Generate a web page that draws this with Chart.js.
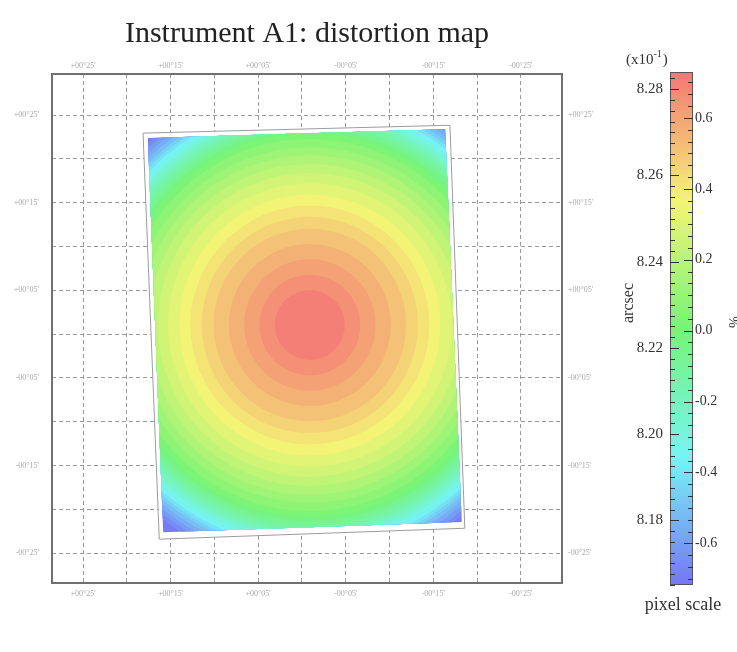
<!DOCTYPE html>
<html><head><meta charset="utf-8">
<script src="https://cdn.jsdelivr.net/npm/chart.js@4.4.1/dist/chart.umd.min.js"></script>
<style>
html,body{margin:0;padding:0;background:#fff;}
#wrap{position:relative;width:737px;height:652px;overflow:hidden;}
#main{position:absolute;left:0;top:0;}
#cbar{position:absolute;left:600px;top:0;}
</style></head><body>
<div id="wrap"><canvas id="main" width="600" height="652"></canvas><canvas id="cbar" width="137" height="652"></canvas></div>
<script>
// ---- data ----
const titleText = "Instrument A1: distortion map";
const gridTicks = [0,1,2,3,4,5,6,7,8,9,10];
const xTickLabels = ["+00°25'", "+00°15'", "+00°05'", "-00°05'", "-00°15'", "-00°25'"];
const yTickLabels = ["-00°25'", "-00°15'", "-00°05'", "+00°05'", "+00°15'", "+00°25'"];
// outline of the detector footprint (grid units)
const borderX = [1.37, 8.38, 8.72, 1.74];
const borderY = [9.59, 9.77, 0.57, 0.32];
// coloured image area
const imageX = [1.48, 8.27, 8.65, 1.83];
const imageY = [9.48, 9.68, 0.71, 0.48];
// centre of the distortion pattern
const centerX = 5.18, centerY = 5.21;
// contour bands: outer radius (grid units) and pixel scale (x10^-1 arcsec)
const ringRadius = [0.80, 1.15, 1.50, 1.85, 2.20, 2.47, 2.73, 2.98, 3.24, 3.47, 3.68, 3.88, 4.06, 4.25, 4.39, 4.48, 4.58, 4.68, 4.76, 4.84, 4.92, 5.00, 5.08, 5.15, 5.22, 5.30, 5.39, 5.48, 5.57, 6.85];
const ringValue  = [8.282, 8.278, 8.274, 8.270, 8.266, 8.262, 8.258, 8.254, 8.250, 8.246, 8.242, 8.238, 8.234, 8.230, 8.226, 8.222, 8.218, 8.214, 8.210, 8.206, 8.202, 8.198, 8.194, 8.190, 8.186, 8.182, 8.178, 8.174, 8.170, 8.166];
// colour bar
const arcsecTicks = [8.18, 8.20, 8.22, 8.24, 8.26, 8.28];
const percentTicks = [-0.6, -0.4, -0.2, 0.0, 0.2, 0.4, 0.6];
const cbMin = 8.165, cbMax = 8.284, cbMean = 8.224;

// ---- helpers ----
const SERIF = "'Liberation Serif', 'DejaVu Serif', serif";
function colorFor(v){
  let t = (cbMax - v) / (cbMax - cbMin);
  t = Math.max(0, Math.min(1, t));
  return 'hsl(' + (240 * t).toFixed(1) + ',85%,71%)';
}
const pctMax = (cbMax / cbMean - 1) * 100;
const pctMin = (cbMin / cbMean - 1) * 100;

const mapPlugin = {
  id: 'mapPlugin',
  beforeDatasetsDraw(chart){
    const ctx = chart.ctx, xs = chart.scales.x, ys = chart.scales.y, a = chart.chartArea;
    const path = (X, Y) => {
      ctx.beginPath();
      X.forEach((x, i) => {
        const px = xs.getPixelForValue(x), py = ys.getPixelForValue(Y[i]);
        if (i) ctx.lineTo(px, py); else ctx.moveTo(px, py);
      });
      ctx.closePath();
    };
    ctx.save();
    ctx.beginPath(); ctx.rect(a.left, a.top, a.right - a.left, a.bottom - a.top); ctx.clip();
    path(borderX, borderY); ctx.fillStyle = '#ffffff'; ctx.fill();
    path(imageX, imageY); ctx.clip();
    const cx = xs.getPixelForValue(centerX), cy = ys.getPixelForValue(centerY);
    for (let i = ringRadius.length - 1; i >= 0; i--) {
      const r = xs.getPixelForValue(centerX + ringRadius[i]) - cx;
      ctx.beginPath(); ctx.arc(cx, cy, r, 0, Math.PI * 2);
      ctx.fillStyle = colorFor(ringValue[i]); ctx.fill();
    }
    ctx.restore();
  },
  afterDraw(chart){
    const ctx = chart.ctx, a = chart.chartArea;
    ctx.save();
    ctx.strokeStyle = '#707070'; ctx.lineWidth = 2;
    ctx.strokeRect(a.left, a.top, a.right - a.left, a.bottom - a.top);
    ctx.restore();
  }
};

const tickFont = {family: SERIF, size: 8};
const tickColor = '#a8a8a8';
function mkAxis(pos, min, max, labels, padding, fitFn, withGrid){
  return {
    type: 'linear', position: pos, min: min, max: max, bounds: 'data',
    afterBuildTicks: s => { s.ticks = gridTicks.map(v => ({value: v})); },
    ticks: {
      autoSkip: false, maxRotation: 0, minRotation: 0, padding: padding,
      font: tickFont, color: tickColor,
      callback: (v, i) => (i % 2 === 0 ? labels[i / 2] : '')
    },
    grid: {display: withGrid, color: '#9a9a9a', lineWidth: 1, drawTicks: false},
    border: {display: false, dash: [4, 3]},
    afterFit: fitFn
  };
}

const titleFontSize = 30, titlePadTop = 16;
const titleH = titleFontSize * 1.2 + titlePadTop;

new Chart(document.getElementById('main'), {
  type: 'scatter',
  data: {
    datasets: [{
      data: borderX.concat([borderX[0]]).map((x, i) => ({x: x, y: borderY.concat([borderY[0]])[i]})),
      showLine: true, borderColor: '#9c9c9c', borderWidth: 1, pointRadius: 0, fill: false, tension: 0
    }]
  },
  options: {
    responsive: false, animation: false, events: [],
    layout: {padding: 0},
    plugins: {
      legend: {display: false}, tooltip: {enabled: false},
      title: {display: true, text: titleText, fullSize: false, color: '#222',
              font: {family: SERIF, size: titleFontSize, weight: 'normal', lineHeight: 1.2},
              padding: {top: titlePadTop, bottom: 0}}
    },
    scales: {
      x: mkAxis('bottom', -0.71, 10.94, xTickLabels, 6, s => { s.height = 69; }, true),
      x2: Object.assign(mkAxis('top', -0.71, 10.94, xTickLabels, 3, s => { s.height = 74 - titleH; }, false), {axis: 'x'}),
      y: mkAxis('left', -0.68, 10.94, yTickLabels, 13, s => { s.width = 52; }, true),
      y2: Object.assign(mkAxis('right', -0.68, 10.94, yTickLabels, 6, s => { s.width = 38; }, false), {axis: 'y'})
    }
  },
  plugins: [mapPlugin]
});

const cbPlugin = {
  id: 'cbPlugin',
  afterDraw(chart){
    const ctx = chart.ctx, a = chart.chartArea, ya = chart.scales.ya, yp = chart.scales.yp;
    ctx.save();
    for (let py = Math.floor(a.top); py < a.bottom; py++) {
      const v = ya.getValueForPixel(py + 0.5);
      ctx.fillStyle = colorFor(v);
      ctx.fillRect(a.left, py, a.right - a.left, 1);
    }
    ctx.strokeStyle = '#555'; ctx.lineWidth = 1;
    ctx.strokeRect(a.left + 0.5, a.top + 0.5, a.right - a.left - 1, a.bottom - a.top - 1);
    ctx.strokeStyle = '#333'; ctx.lineWidth = 1;
    // left ticks (arcsec)
    for (let k = 0; k * 0.0025 + 8.165 <= cbMax + 1e-9; k++) {
      const v = 8.165 + k * 0.0025;
      const py = Math.round(ya.getPixelForValue(v)) + 0.5;
      const major = arcsecTicks.some(t => Math.abs(t - v) < 1e-6);
      ctx.beginPath(); ctx.moveTo(a.left, py); ctx.lineTo(a.left + (major ? 9 : 5), py); ctx.stroke();
    }
    // right ticks (percent)
    for (let k = -24; k <= 24; k++) {
      const v = k * 0.2 / 6;
      if (v < pctMin || v > pctMax) continue;
      const py = Math.round(yp.getPixelForValue(v)) + 0.5;
      const major = k % 6 === 0;
      ctx.beginPath(); ctx.moveTo(a.right, py); ctx.lineTo(a.right - (major ? 9 : 5), py); ctx.stroke();
    }
    // texts
    ctx.fillStyle = '#333';
    ctx.textBaseline = 'alphabetic';
    ctx.font = '15px ' + SERIF; ctx.textAlign = 'left';
    let x0 = 26, yb = 64;
    ctx.fillText('(x10', x0, yb);
    let w = ctx.measureText('(x10').width;
    ctx.font = '10px ' + SERIF;
    ctx.fillText('-1', x0 + w, yb - 7);
    let w2 = ctx.measureText('-1').width;
    ctx.font = '15px ' + SERIF;
    ctx.fillText(')', x0 + w + w2 + 1, yb);
    // arcsec
    ctx.save();
    ctx.translate(29, 303); ctx.rotate(-Math.PI / 2);
    ctx.font = '16px ' + SERIF; ctx.textAlign = 'center'; ctx.textBaseline = 'middle';
    ctx.fillText('arcsec', 0, 0);
    ctx.restore();
    // %
    ctx.save();
    ctx.translate(133, 322); ctx.rotate(Math.PI / 2);
    ctx.font = '14px ' + SERIF; ctx.textAlign = 'center'; ctx.textBaseline = 'middle';
    ctx.fillText('%', 0, 0);
    ctx.restore();
    ctx.font = '18px ' + SERIF; ctx.textAlign = 'center';
    ctx.fillText('pixel scale', 83, 610);
    ctx.restore();
  }
};

new Chart(document.getElementById('cbar'), {
  type: 'bar',
  data: {labels: [''], datasets: []},
  options: {
    responsive: false, animation: false, events: [],
    layout: {padding: {top: 72, bottom: 67, left: 0, right: 0}},
    plugins: {legend: {display: false}, tooltip: {enabled: false}, title: {display: false}},
    scales: {
      x: {display: false},
      ya: {
        axis: 'y', type: 'linear', position: 'left', min: cbMin, max: cbMax, bounds: 'data',
        afterBuildTicks: s => { s.ticks = arcsecTicks.map(v => ({value: v})); },
        ticks: {autoSkip: false, padding: 7, font: {family: SERIF, size: 15}, color: '#333',
                callback: (v, i) => arcsecTicks[i].toFixed(2)},
        grid: {display: false, drawTicks: false}, border: {display: false},
        afterFit: s => { s.width = 70; }
      },
      yp: {
        axis: 'y', type: 'linear', position: 'right', min: pctMin, max: pctMax, bounds: 'data',
        afterBuildTicks: s => { s.ticks = percentTicks.map(v => ({value: v})); },
        ticks: {autoSkip: false, padding: 2, font: {family: SERIF, size: 14}, color: '#333',
                callback: (v, i) => percentTicks[i].toFixed(1)},
        grid: {display: false, drawTicks: false}, border: {display: false},
        afterFit: s => { s.width = 44; }
      }
    }
  },
  plugins: [cbPlugin]
});
</script>
</body></html>
